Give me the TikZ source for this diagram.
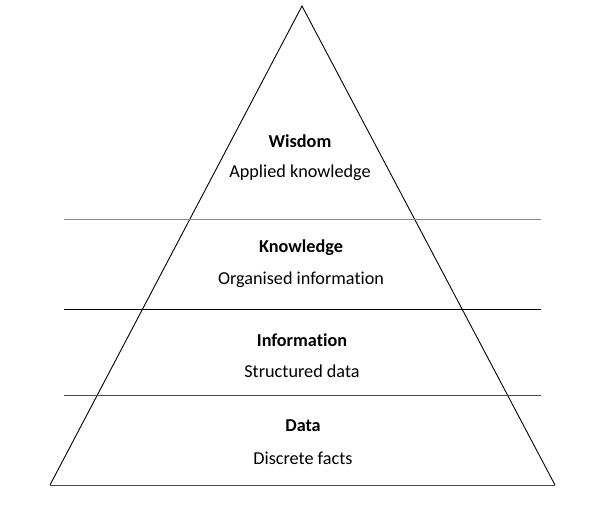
\documentclass[tikz,border=0pt]{standalone}
\usepackage{fontspec}
\setmainfont{Carlito}[Ligatures=NoCommon]
\definecolor{edgegray}{HTML}{3A3A3A}
\definecolor{lightrule}{HTML}{8C8C8C}
\definecolor{darkrule}{HTML}{4A4A4A}
\tikzset{
  tier/.style={font=\fontsize{18.2}{21}\selectfont\bfseries, anchor=center},
  note/.style={font=\fontsize{18.2}{21}\selectfont, anchor=center},
  side/.style={draw=black, line width=0.9pt},
  rule/.style={line width=1pt}
}

\begin{document}
\begin{tikzpicture}[x=1pt, y=-1pt]
\useasboundingbox (0,0) rectangle (600,511);

% pyramid outline
\coordinate (apex) at (302,6);
\coordinate (baseL) at (50,485);
\coordinate (baseR) at (555,485);
\draw[side] (baseL) -- (apex) -- (baseR);
\draw[rule, draw=darkrule] (baseL) -- (baseR);

% level separators
\draw[rule, draw=lightrule] (64,219) -- (541,219);
\draw[rule, draw=black] (64,309) -- (541,309);
\draw[rule, draw=darkrule] (64,395) -- (541,395);

% labels
\node[tier] (wisdom) at (300,141) {Wisdom};
\node[note] (wisdomtxt) at (300,173) {Applied knowledge};
\node[tier] (knowledge) at (301,248) {Knowledge};
\node[note] (knowledgetxt) at (301,280) {Organised information};
\node[tier] (information) at (302,340) {Information};
\node[note] (informationtxt) at (302,371) {Structured data};
\node[tier] (data) at (303,426) {Data};
\node[note] (datatxt) at (303,458) {Discrete facts};

\end{tikzpicture}
\end{document}
